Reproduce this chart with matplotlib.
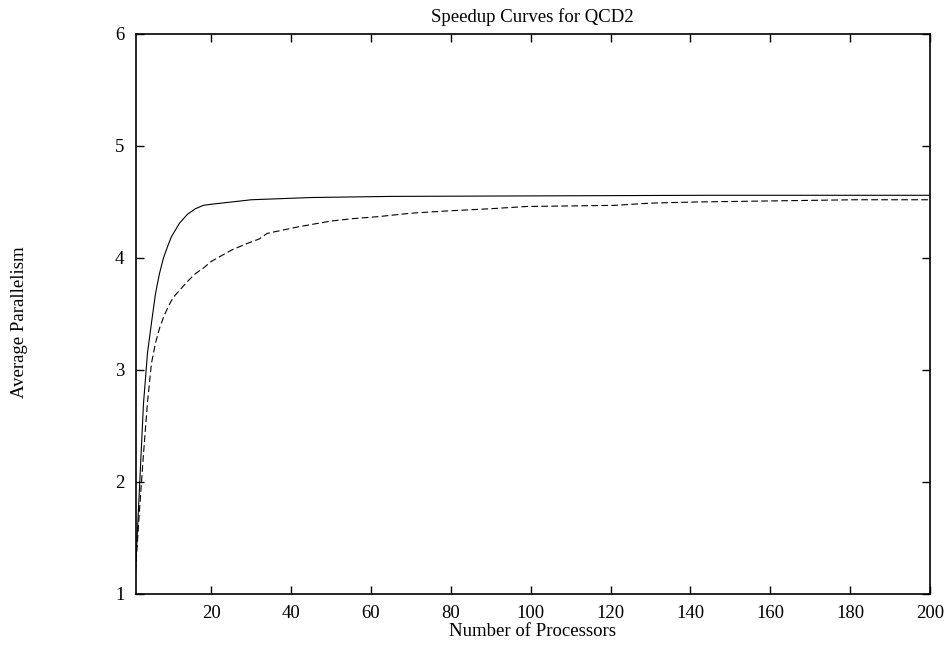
import matplotlib.pyplot as plt

plt.rcParams['font.family'] = ['Liberation Serif', 'DejaVu Serif']

# values
procs_a = [1, 2, 3, 4, 5, 6, 7, 8, 9, 10, 12, 14, 16, 18, 20, 25, 30, 45, 65, 145, 200]
par_a = [1.2, 1.95, 2.7, 3.15, 3.42, 3.68, 3.86, 4.0, 4.1, 4.19, 4.31, 4.39, 4.44, 4.47,
         4.48, 4.50, 4.52, 4.54, 4.55, 4.56, 4.56]

procs_b = [1, 2, 3, 4, 5, 6, 7, 8, 9, 10, 11, 12, 14, 16, 18, 20, 22, 25, 29, 32, 34, 38,
           42, 50, 55, 62, 70, 79, 90, 99, 121, 130, 141, 161, 181, 200]
par_b = [1.2, 1.75, 2.25, 2.71, 3.06, 3.24, 3.37, 3.47, 3.55, 3.62, 3.67, 3.71, 3.79, 3.86,
         3.91, 3.97, 4.01, 4.07, 4.13, 4.17, 4.22, 4.25, 4.28, 4.33, 4.35, 4.37, 4.40,
         4.42, 4.44, 4.46, 4.47, 4.49, 4.50, 4.51, 4.52, 4.52]

x_ticks = [20, 40, 60, 80, 100, 120, 140, 160, 180, 200]
y_ticks = [1, 2, 3, 4, 5, 6]

fig = plt.figure(figsize=(9.5, 6.45), dpi=100)
ax = fig.add_axes([135.5 / 950, 51 / 645, (930 - 135.5) / 950, (594 - 34) / 645])

ax.plot(procs_a, par_a, color='black', lw=0.8)
ax.plot(procs_b, par_b, color='black', lw=0.8, dashes=(6, 3))

ax.set_xlim(1, 200)
ax.set_ylim(1, 6)
ax.set_xticks(x_ticks)
ax.set_yticks(y_ticks)
ax.tick_params(direction='in', length=6, width=1, top=True, right=True,
               labelsize=13.5, pad=8)
for s in ax.spines.values():
    s.set_linewidth(1.2)

ax.set_title('Speedup Curves for QCD2', fontsize=13.5, pad=9)
ax.set_xlabel('Number of Processors', fontsize=13.5, labelpad=1)
fig.text(20 / 950, 1 - 322 / 645, 'Average Parallelism', rotation=90,
         fontsize=13.5, ha='center', va='center')

fig.savefig('out.png', dpi=100)
